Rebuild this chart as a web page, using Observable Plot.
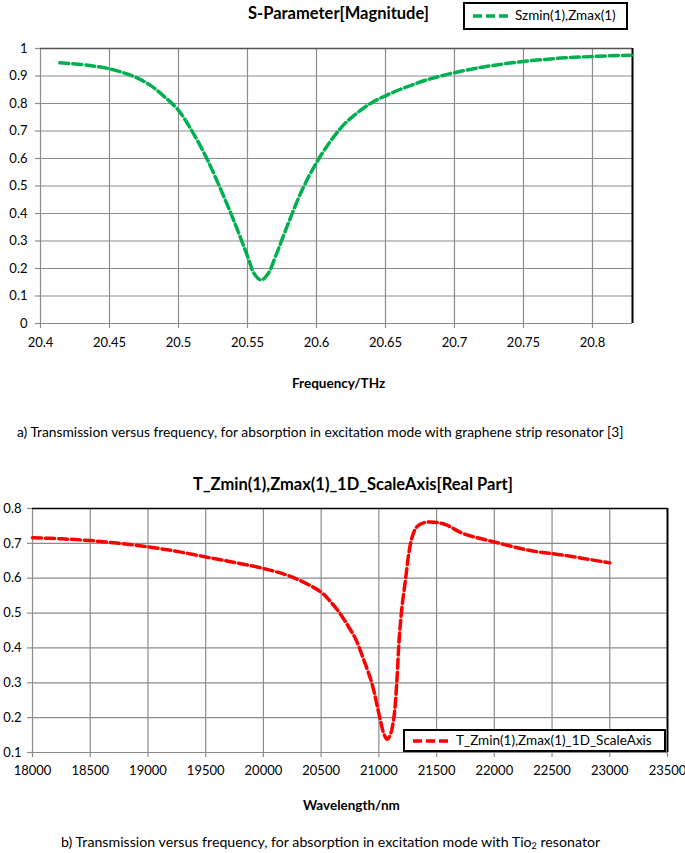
<!DOCTYPE html>
<html>
<head>
<meta charset="utf-8">
<script src="https://cdn.jsdelivr.net/npm/d3@7"></script>
<script src="https://cdn.jsdelivr.net/npm/@observablehq/plot@0.6"></script>
<style>
  body { margin: 0; background: #fff; }
  #wrap { position: relative; width: 685px; height: 853px; font-family: Lato, "Liberation Sans", sans-serif; color: #000; overflow: hidden; }
  .abs { position: absolute; white-space: nowrap; line-height: 1.15; }
  .title { font-weight: bold; font-size: 16.5px; }
  .axt { font-weight: bold; font-size: 13.5px; }
  .cap { font-size: 13.8px; }
  .cap sub { font-size: 9px; line-height: 0; vertical-align: -2px; }
  .leg { border: 2px solid #000; background: #fff; box-sizing: border-box; display: flex; align-items: center; font-size: 13.5px; }
  .leg svg { margin: 0 6px 0 8px; }
  svg.plot g[aria-label$="tick"] path { stroke: #8c8c8c; stroke-width: 1.2; }
  #c1, #c2 { position: absolute; left: 0; }
</style>
</head>
<body>
<div id="wrap">
  <div id="c1"></div>
  <div id="c2"></div>
  <div class="abs title" style="left:248px;top:4px;">S-Parameter[Magnitude]</div>
  <div class="abs leg" style="left:463px;top:2px;width:165px;height:28px;">
    <svg width="36" height="6"><line x1="0" y1="3" x2="36" y2="3" stroke="#00b050" stroke-width="3.5" stroke-dasharray="9,4"/></svg>Szmin(1),Zmax(1)
  </div>
  <div class="abs axt" style="left:292px;top:376px;">Frequency/THz</div>
  <div class="abs cap" style="left:17px;top:424px;">a) Transmission versus frequency, for absorption in excitation mode with graphene strip resonator [3]</div>

  <div class="abs title" style="left:193px;top:475px;">T_Zmin(1),Zmax(1)_1D_ScaleAxis[Real Part]</div>
  <div class="abs leg" style="left:403px;top:729px;width:263px;height:23px;">
    <svg width="37" height="6"><line x1="0" y1="3" x2="37" y2="3" stroke="#ff0000" stroke-width="3.5" stroke-dasharray="9,4"/></svg>T_Zmin(1),Zmax(1)_1D_ScaleAxis
  </div>
  <div class="abs axt" style="left:303px;top:798px;">Wavelength/nm</div>
  <div class="abs cap" style="left:61px;top:834px;font-size:14.2px;">b) Transmission versus frequency, for absorption in excitation mode with Tio<sub>2</sub> resonator</div>
</div>
<script>
// ---- Chart (a) data ----
const freqTicks = [20.4, 20.45, 20.5, 20.55, 20.6, 20.65, 20.7, 20.75, 20.8];
const magTicks = [0, 0.1, 0.2, 0.3, 0.4, 0.5, 0.6, 0.7, 0.8, 0.9, 1];
const freqDomain = [20.4, 20.829];
const magDomain = [0, 1];
const freq = [20.414, 20.43, 20.44, 20.45, 20.46, 20.47, 20.48, 20.49, 20.50, 20.51, 20.52, 20.53, 20.54, 20.55, 20.555, 20.56, 20.565, 20.57, 20.58, 20.59, 20.60, 20.61, 20.62, 20.63, 20.64, 20.65, 20.66, 20.67, 20.68, 20.69, 20.70, 20.72, 20.74, 20.76, 20.78, 20.80, 20.829];
const mag = [0.948, 0.942, 0.935, 0.926, 0.912, 0.893, 0.865, 0.824, 0.775, 0.698, 0.605, 0.495, 0.375, 0.245, 0.18, 0.158, 0.182, 0.24, 0.37, 0.49, 0.585, 0.662, 0.724, 0.768, 0.803, 0.828, 0.85, 0.869, 0.886, 0.9, 0.912, 0.932, 0.947, 0.958, 0.966, 0.971, 0.976];

// ---- Chart (b) data ----
const waveTicks = [18000, 18500, 19000, 19500, 20000, 20500, 21000, 21500, 22000, 22500, 23000, 23500];
const realTicks = [0.1, 0.2, 0.3, 0.4, 0.5, 0.6, 0.7, 0.8];
const waveDomain = [18000, 23500];
const realDomain = [0.1, 0.8];
const wave = [18000, 18250, 18500, 18750, 19000, 19250, 19500, 19750, 20000, 20250, 20500, 20575, 20650, 20730, 20800, 20870, 20940, 21008, 21045, 21072, 21100, 21130, 21155, 21175, 21200, 21230, 21260, 21290, 21330, 21400, 21500, 21590, 21730, 22000, 22300, 22600, 23000];
const real = [0.716, 0.713, 0.708, 0.70, 0.69, 0.677, 0.661, 0.645, 0.628, 0.603, 0.56, 0.535, 0.505, 0.465, 0.425, 0.365, 0.298, 0.2, 0.152, 0.138, 0.152, 0.2, 0.3, 0.42, 0.517, 0.594, 0.672, 0.72, 0.748, 0.76, 0.76, 0.752, 0.728, 0.704, 0.68, 0.666, 0.644];

const gridColor = "#8c8c8c";
const fmt = d => String(+d.toFixed(3));

const dataA = freq.map((f, i) => ({f, m: mag[i]}));
const plotA = Plot.plot({
  width: 685, height: 360,
  marginLeft: 40, marginRight: 53, marginTop: 48, marginBottom: 37,
  style: {fontFamily: "Lato, 'Liberation Sans', sans-serif", fontSize: "13px", color: "#000", background: "white"},
  x: {domain: freqDomain, ticks: freqTicks, tickFormat: fmt, tickSize: 5, tickPadding: 9, label: null},
  y: {domain: magDomain, ticks: magTicks, tickFormat: fmt, tickSize: 5, tickPadding: 8, label: null},
  marks: [
    Plot.ruleX(freqTicks, {stroke: gridColor, strokeWidth: 1.2}),
    Plot.ruleY(magTicks.slice(0, -1), {stroke: gridColor, strokeWidth: 1.2}),
    Plot.ruleY([magDomain[1]], {stroke: "#555", strokeWidth: 1.5}),
    Plot.ruleX([freqDomain[1]], {stroke: "#000", strokeWidth: 2}),
    Plot.line(dataA, {x: "f", y: "m", stroke: "#00b050", strokeWidth: 3.5, strokeDasharray: "9,4", curve: "catmull-rom"})
  ]
});
plotA.classList.add("plot");
const c1 = document.getElementById("c1");
c1.style.top = "0px";
c1.appendChild(plotA);

const dataB = wave.map((w, i) => ({w, r: real[i]}));
const plotB = Plot.plot({
  width: 685, height: 320,
  marginLeft: 32, marginRight: 18, marginTop: 38, marginBottom: 38,
  style: {fontFamily: "Lato, 'Liberation Sans', sans-serif", fontSize: "13px", color: "#000", background: "white"},
  x: {domain: waveDomain, ticks: waveTicks, tickFormat: d => String(d), tickSize: 5, tickPadding: 8, label: null},
  y: {domain: realDomain, ticks: realTicks, tickFormat: fmt, tickSize: 5, tickPadding: 6, label: null},
  marks: [
    Plot.ruleX(waveTicks.slice(0, -1), {stroke: gridColor, strokeWidth: 1.2}),
    Plot.ruleY(realTicks.slice(0, -1), {stroke: gridColor, strokeWidth: 1.2}),
    Plot.ruleY([realDomain[1]], {stroke: "#000", strokeWidth: 1.5}),
    Plot.ruleX([waveDomain[1]], {stroke: "#000", strokeWidth: 2}),
    Plot.line(dataB, {x: "w", y: "r", stroke: "#ff0000", strokeWidth: 3.5, strokeDasharray: "9,4", curve: "catmull-rom"})
  ]
});
plotB.classList.add("plot");
const c2 = document.getElementById("c2");
c2.style.top = "470px";
c2.appendChild(plotB);
</script>
</body>
</html>
